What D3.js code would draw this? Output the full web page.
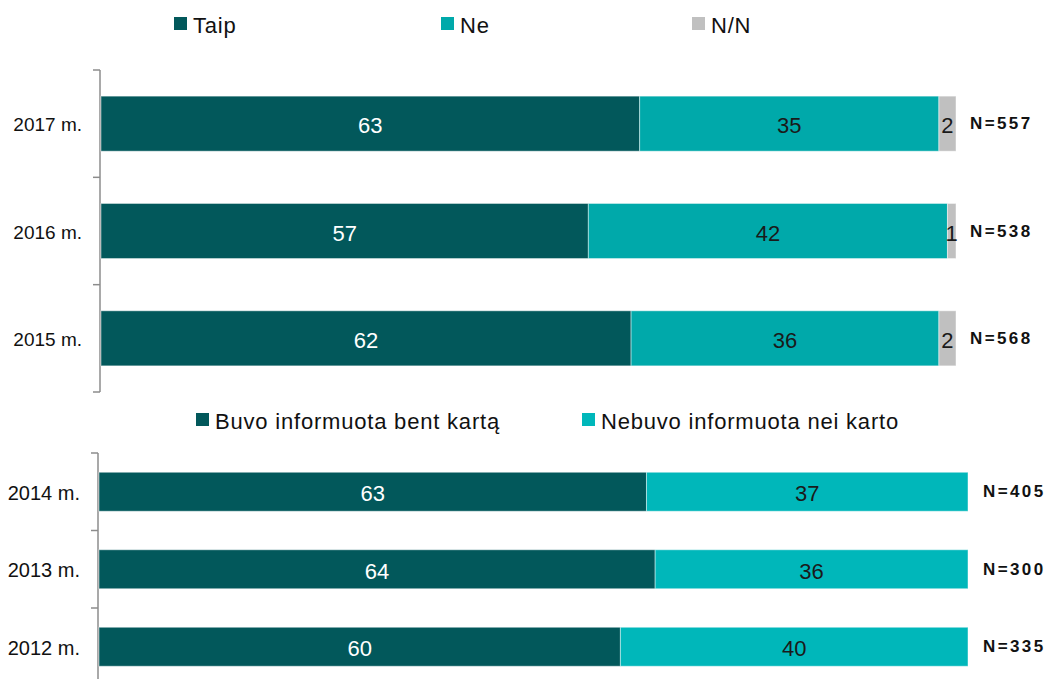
<!DOCTYPE html>
<html>
<head>
<meta charset="utf-8">
<script src="https://cdn.jsdelivr.net/npm/d3@7"></script>
<style>
  body { margin: 0; background: #fff; }
  svg text { font-family: 'Liberation Sans', Arial, sans-serif; }
</style>
</head>
<body>
<div id="chart"></div>
<script>
// top block: 2015-2017
const topYears = ['2017 m.', '2016 m.', '2015 m.'];
const taip = [63, 57, 62];
const ne = [35, 42, 36];
const nn = [2, 1, 2];
const topN = [557, 538, 568];
const topKeys = ['Taip', 'Ne', 'N/N'];

// bottom block: 2012-2014
const bottomYears = ['2014 m.', '2013 m.', '2012 m.'];
const buvo = [63, 64, 60];
const nebuvo = [37, 36, 40];
const bottomN = [405, 300, 335];
const bottomKeys = ['Buvo informuota bent kartą', 'Nebuvo informuota nei karto'];

const width = 1050, height = 679;
const dark = '#02585b';

const svg = d3.select('#chart').append('svg')
    .attr('width', width)
    .attr('height', height);

function drawBlock(cfg) {
    const rows = cfg.years.map((y, i) => {
        const r = {year: y, n: cfg.n[i]};
        cfg.keys.forEach((k, j) => r[k] = cfg.series[j][i]);
        return r;
    });
    const stack = d3.stack().keys(cfg.keys)(rows);

    const x = d3.scaleLinear().domain([0, 100]).range([cfg.x0, cfg.x1]);
    const y = d3.scaleBand()
        .domain(cfg.years)
        .range([cfg.y0, cfg.y1])
        .paddingInner(cfg.pad)
        .paddingOuter(cfg.pad / 2);

    const g = svg.append('g');

    // axis line with excel style ticks between categories
    g.append('line')
        .attr('x1', cfg.axisX).attr('x2', cfg.axisX)
        .attr('y1', cfg.y0).attr('y2', cfg.axisEnd)
        .attr('stroke', '#8c8c8c').attr('stroke-width', 1.5);
    const step = y.step();
    g.selectAll('.tick')
        .data(d3.range(cfg.years.length + 1))
        .join('line')
        .attr('x1', cfg.axisX - 7).attr('x2', cfg.axisX)
        .attr('y1', i => cfg.y0 + i * step)
        .attr('y2', i => cfg.y0 + i * step)
        .attr('stroke', '#8c8c8c').attr('stroke-width', 1.5);

    g.selectAll('.cat')
        .data(cfg.years)
        .join('text')
        .attr('x', cfg.labelX)
        .attr('y', d => y(d) + y.bandwidth() / 2 + 1)
        .attr('text-anchor', 'end')
        .attr('dominant-baseline', 'central')
        .attr('font-size', cfg.catSize)
        .attr('fill', '#111')
        .text(d => d);

    const layer = g.selectAll('.layer')
        .data(stack)
        .join('g')
        .attr('fill', (d, i) => cfg.colors[i]);

    layer.selectAll('rect')
        .data(d => d)
        .join('rect')
        .attr('x', d => x(d[0]))
        .attr('y', d => y(d.data.year))
        .attr('width', d => x(d[1]) - x(d[0]))
        .attr('height', y.bandwidth())
        .attr('stroke', '#fff')
        .attr('stroke-opacity', 0.45)
        .attr('stroke-width', 1);

    layer.selectAll('text')
        .data((d, i) => d.map(v => ({v, i})))
        .join('text')
        .attr('x', d => (x(d.v[0]) + x(d.v[1])) / 2)
        .attr('y', d => y(d.v.data.year) + y.bandwidth() / 2 + 2)
        .attr('text-anchor', 'middle')
        .attr('dominant-baseline', 'central')
        .attr('font-size', '22px')
        .attr('fill', d => d.i === 0 ? '#fff' : '#1a1a1a')
        .text(d => d.v[1] - d.v[0]);

    g.selectAll('.nlab')
        .data(rows)
        .join('text')
        .attr('x', cfg.nX)
        .attr('y', d => y(d.year) + y.bandwidth() / 2)
        .attr('dominant-baseline', 'central')
        .attr('font-size', '17px')
        .attr('font-weight', 'bold')
        .attr('letter-spacing', '2.4px')
        .attr('fill', '#111')
        .text(d => `N=${d.n}`);

    // legend
    const leg = g.selectAll('.leg')
        .data(cfg.keys)
        .join('g')
        .attr('transform', (d, i) => `translate(${cfg.legendX[i]}, ${cfg.legendY})`);
    leg.append('rect')
        .attr('x', 0).attr('y', -7)
        .attr('width', 13).attr('height', 13)
        .attr('fill', (d, i) => cfg.colors[i]);
    leg.append('text')
        .attr('x', 19)
        .attr('y', 1)
        .attr('dominant-baseline', 'central')
        .attr('font-size', '22px')
        .attr('letter-spacing', '0.8px')
        .attr('fill', '#111')
        .text(d => d);
}

drawBlock({
    years: topYears, keys: topKeys, series: [taip, ne, nn], n: topN,
    colors: [dark, '#00a9aa', '#c0c0c0'],
    x0: 101, x1: 956, y0: 70, y1: 392, pad: 0.487,
    axisX: 100, axisEnd: 392, labelX: 82, catSize: '19px', nX: 970,
    legendX: [174, 441, 692], legendY: 24
});

drawBlock({
    years: bottomYears, keys: bottomKeys, series: [buvo, nebuvo], n: bottomN,
    colors: [dark, '#00b7ba'],
    x0: 99, x1: 968, y0: 453, y1: 685.5, pad: 0.497,
    axisX: 98, axisEnd: 679, labelX: 80, catSize: '20px', nX: 983,
    legendX: [196, 582], legendY: 420
});
</script>
</body>
</html>
